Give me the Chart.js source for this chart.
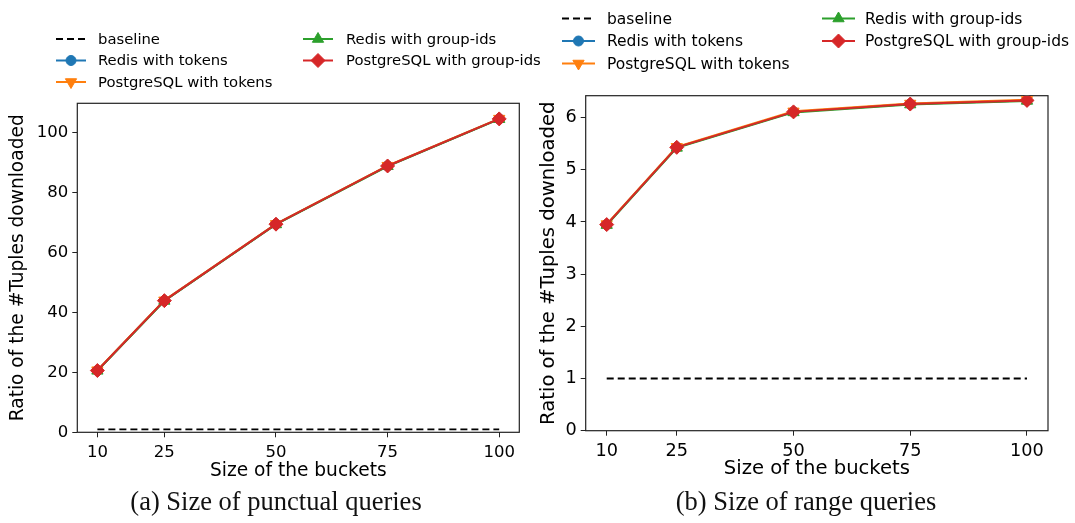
<!DOCTYPE html>
<html>
<head>
<meta charset="utf-8">
<script src="https://cdn.jsdelivr.net/npm/chart.js@4"></script>
<style>
  body { margin: 0; background: #fff; width: 1075px; height: 523px; position: relative; overflow: hidden; }
  .box { position: absolute; top: 0; width: 540px; height: 490px; }
  .cap { position: absolute; top: 488px; font-family: "Liberation Serif"; font-size: 26.5px; line-height: 27px;
         color: #111; white-space: nowrap; transform: translateX(-50%); }
</style>
</head>
<body>
<div class="box" style="left:0"><canvas id="punctual"></canvas></div>
<div class="box" style="left:535px"><canvas id="range"></canvas></div>
<div class="cap" style="left:276px">(a) Size of punctual queries</div>
<div class="cap" style="left:806px">(b) Size of range queries</div>

<script>
// bucket sizes on the x axis
const bucketSizes = [10, 25, 50, 75, 100];
const xTicks = [10, 25, 50, 75, 100];

// (a) punctual queries
const punctualBaseline = [1, 1, 1, 1, 1];
const punctualRedisTokens = [20.6, 43.9, 69.4, 88.8, 104.5];
const punctualPgTokens = [20.7, 44.0, 69.5, 88.9, 104.6];
const punctualRedisGroups = [20.5, 43.8, 69.3, 88.7, 104.4];
const punctualPgGroups = [20.6, 43.9, 69.4, 88.8, 104.5];
const punctualTicks = [0, 20, 40, 60, 80, 100];

// (b) range queries
const rangeBaseline = [1, 1, 1, 1, 1];
const rangeRedisTokens = [3.95, 5.43, 6.11, 6.26, 6.33];
const rangePgTokens = [3.96, 5.44, 6.12, 6.27, 6.34];
const rangeRedisGroups = [3.94, 5.42, 6.10, 6.25, 6.32];
const rangePgGroups = [3.95, 5.43, 6.11, 6.26, 6.33];
const rangeTicks = [0, 1, 2, 3, 4, 5, 6];

const FONT = '"DejaVu Sans"';

function pts(values) {
  return bucketSizes.map((b, i) => ({ x: b, y: values[i] }));
}

function series(label, values, color, style, radius, rotation, order) {
  return {
    label: label,
    data: pts(values),
    borderColor: color,
    backgroundColor: color,
    borderWidth: 2,
    pointStyle: style,
    pointRadius: radius,
    pointRotation: rotation,
    pointBorderWidth: 1,
    order: order
  };
}

function makeDatasets(base, rt, pt, rg, pg) {
  return [
    { label: 'baseline', data: pts(base), borderColor: '#000', backgroundColor: '#000',
      borderWidth: 1.8, borderDash: [7, 4], pointRadius: 0, order: 5 },
    series('Redis with tokens', rt, '#1f77b4', 'circle', 5, 0, 4),
    series('PostgreSQL with tokens', pt, '#ff7f0e', 'triangle', 6.5, 180, 3),
    series('Redis with group-ids', rg, '#2ca02c', 'triangle', 6.5, 0, 2),
    series('PostgreSQL with group-ids', pg, '#d62728', 'rectRot', 7, 0, 1)
  ];
}

// legend laid out in two columns, filled column by column
const columnLegend = {
  id: 'columnLegend',
  afterDraw(chart, args, opts) {
    const ctx = chart.ctx;
    ctx.save();
    ctx.font = opts.size + 'px ' + FONT;
    ctx.textBaseline = 'middle';
    opts.items.forEach(item => {
      const ds = chart.data.datasets[item.index];
      ctx.strokeStyle = ds.borderColor;
      ctx.fillStyle = ds.backgroundColor;
      ctx.lineWidth = ds.borderWidth;
      ctx.setLineDash(ds.borderDash || []);
      ctx.beginPath();
      ctx.moveTo(item.x, item.y);
      ctx.lineTo(item.x + opts.sample, item.y);
      ctx.stroke();
      ctx.setLineDash([]);
      if (ds.pointRadius > 0) {
        ctx.lineWidth = 1;
        Chart.helpers.drawPoint(ctx, {
          pointStyle: ds.pointStyle, radius: ds.pointRadius,
          rotation: ds.pointRotation, borderWidth: 1
        }, item.x + opts.sample / 2, item.y);
      }
      ctx.fillStyle = '#000';
      ctx.fillText(ds.label, item.tx, item.y + 1);
    });
    ctx.restore();
  }
};

// full box around the plot area
const frame = {
  id: 'frame',
  beforeDatasetsDraw(chart) {
    const a = chart.chartArea;
    const ctx = chart.ctx;
    ctx.save();
    ctx.strokeStyle = '#222';
    ctx.lineWidth = 1.2;
    ctx.strokeRect(a.left, a.top, a.right - a.left, a.bottom - a.top);
    ctx.restore();
  }
};

function makeChart(id, datasets, cfg) {
  return new Chart(document.getElementById(id), {
    type: 'line',
    data: { datasets: datasets },
    plugins: [frame, columnLegend],
    options: {
      responsive: true,
      maintainAspectRatio: false,
      animation: false,
      layout: { padding: cfg.padding },
      plugins: {
        legend: { display: false },
        tooltip: { enabled: false },
        columnLegend: { items: cfg.legend, size: cfg.legendSize, sample: cfg.sample }
      },
      scales: {
        x: {
          type: 'linear',
          min: 5.5,
          max: 104.5,
          afterBuildTicks: s => { s.ticks = xTicks.map(v => ({ value: v })); },
          afterFit: s => { s.height = cfg.xHeight; },
          ticks: { color: '#000', font: { family: FONT, size: cfg.tickSize }, padding: cfg.xTickPad,
                   maxRotation: 0, callback: v => String(v) },
          grid: { drawOnChartArea: false, drawTicks: true, tickLength: 5, color: '#222' },
          border: { display: false },
          title: { display: true, text: 'Size of the buckets', color: '#000',
                   font: { family: FONT, size: cfg.titleSize }, padding: { top: 0, bottom: cfg.xTitlePad } }
        },
        y: {
          type: 'linear',
          min: 0,
          max: cfg.yMax,
          afterBuildTicks: s => { s.ticks = cfg.yTicks.map(v => ({ value: v })); },
          afterFit: s => { s.width = cfg.yWidth; },
          ticks: { color: '#000', font: { family: FONT, size: cfg.tickSize }, padding: 4 },
          grid: { drawOnChartArea: false, drawTicks: true, tickLength: 5, color: '#222' },
          border: { display: false },
          title: { display: true, text: 'Ratio of the #Tuples downloaded', color: '#000',
                   font: { family: FONT, size: cfg.titleSize }, padding: { top: cfg.yTitlePad, bottom: 0 } }
        }
      }
    }
  });
}

makeChart('punctual',
  makeDatasets(punctualBaseline, punctualRedisTokens, punctualPgTokens, punctualRedisGroups, punctualPgGroups),
  {
    padding: { top: 103.3, right: 20.7, left: 0, bottom: 0 },
    xHeight: 57.7, yWidth: 77.3, yMax: 109.7, yTicks: punctualTicks,
    tickSize: 16.5, titleSize: 18.6, legendSize: 14.8, sample: 30,
    xTickPad: 6, xTitlePad: 7.8, yTitlePad: 6.8,
    legend: [
      { index: 0, x: 56, tx: 98, y: 39 },
      { index: 1, x: 56, tx: 98, y: 60.5 },
      { index: 2, x: 56, tx: 98, y: 82 },
      { index: 3, x: 303, tx: 346, y: 39 },
      { index: 4, x: 303, tx: 346, y: 60.5 }
    ]
  });

makeChart('range',
  makeDatasets(rangeBaseline, rangeRedisTokens, rangePgTokens, rangeRedisGroups, rangePgGroups),
  {
    padding: { top: 95.7, right: 27, left: 0, bottom: 0 },
    xHeight: 59.3, yWidth: 50.7, yMax: 6.42, yTicks: rangeTicks,
    tickSize: 17.7, titleSize: 19.6, legendSize: 15.5, sample: 33,
    xTickPad: 5, xTitlePad: 9.2, yTitlePad: 2.2,
    legend: [
      { index: 0, x: 27, tx: 72, y: 18.5 },
      { index: 1, x: 27, tx: 72, y: 41 },
      { index: 2, x: 27, tx: 72, y: 63.5 },
      { index: 3, x: 287, tx: 330, y: 18.5 },
      { index: 4, x: 287, tx: 330, y: 41 }
    ]
  });
</script>
</body>
</html>
